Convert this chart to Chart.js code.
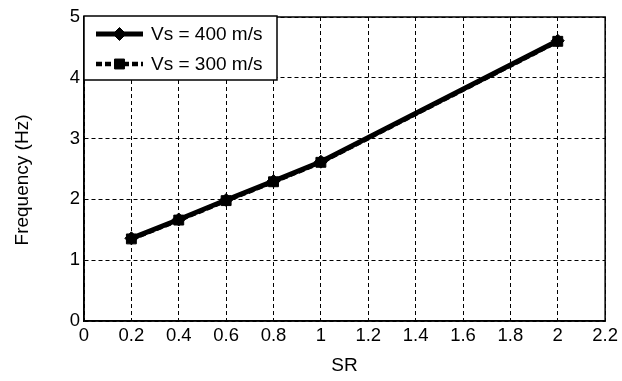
<!DOCTYPE html>
<html>
<head>
<meta charset="utf-8">
<script src="https://cdn.jsdelivr.net/npm/chart.js@4/dist/chart.umd.min.js"></script>
<style>
  html, body { margin: 0; padding: 0; background: #fff; }
  #wrap { width: 622px; height: 381px; }
</style>
</head>
<body>
<div id="wrap"><canvas id="c" width="622" height="381"></canvas></div>
<script>
// Slenderness ratio (SR) and natural frequency for two shear-wave velocities
const srValues = [0.2, 0.4, 0.6, 0.8, 1.0, 2.0];
const freqVs400 = [1.36, 1.67, 1.99, 2.30, 2.62, 4.61];
const freqVs300 = [1.35, 1.66, 1.98, 2.29, 2.61, 4.60];
const seriesLabels = ['Vs = 400 m/s', 'Vs = 300 m/s'];

const xTickValues = [0, 0.2, 0.4, 0.6, 0.8, 1, 1.2, 1.4, 1.6, 1.8, 2, 2.2];
const xTickLabels = ['0', '0.2', '0.4', '0.6', '0.8', '1', '1.2', '1.4', '1.6', '1.8', '2', '2.2'];
const yTickValues = [0, 1, 2, 3, 4, 5];
const yTickLabels = ['0', '1', '2', '3', '4', '5'];
const xTitle = 'SR';
const yTitle = 'Frequency (Hz)';

const FONT = 'Liberation Sans, Arial, sans-serif';

const toPoints = (xs, ys) => xs.map((x, i) => ({ x: x, y: ys[i] }));

// Solid frame around the plotting area
const framePlugin = {
  id: 'frame',
  beforeDatasetsDraw(chart) {
    const { ctx, chartArea: a } = chart;
    ctx.save();
    ctx.strokeStyle = '#000';
    ctx.lineWidth = 1.5;
    ctx.setLineDash([]);
    ctx.strokeRect(a.left, a.top, a.right - a.left, a.bottom - a.top);
    ctx.restore();
  }
};

// Vertical axis title, placed a little below the middle of the plot
const yTitlePlugin = {
  id: 'yTitle',
  afterDraw(chart) {
    const { ctx, chartArea: a } = chart;
    ctx.save();
    ctx.translate(23, (a.top + a.bottom) / 2 + 11);
    ctx.rotate(-Math.PI / 2);
    ctx.fillStyle = '#000';
    ctx.font = '19px ' + FONT;
    ctx.textAlign = 'center';
    ctx.textBaseline = 'middle';
    ctx.fillText(yTitle, 0, 0);
    ctx.restore();
  }
};

// Boxed legend in the upper-left corner of the plot
const boxLegendPlugin = {
  id: 'boxLegend',
  afterDatasetsDraw(chart) {
    const { ctx, chartArea: a } = chart;
    const x0 = a.left, y0 = a.top - 1, w = 193, h = 64;
    ctx.save();
    ctx.fillStyle = '#fff';
    ctx.fillRect(x0, y0, w, h);
    ctx.strokeStyle = '#000';
    ctx.lineWidth = 1.5;
    ctx.strokeRect(x0, y0, w, h);
    chart.data.datasets.forEach((ds, i) => {
      const cy = y0 + 18 + i * 30;
      const lx0 = x0 + 12, lx1 = x0 + 59, mx = (lx0 + lx1) / 2;
      ctx.strokeStyle = '#000';
      ctx.fillStyle = '#000';
      ctx.lineWidth = ds.borderWidth;
      ctx.setLineDash(ds.borderDash || []);
      ctx.beginPath();
      ctx.moveTo(lx0, cy);
      ctx.lineTo(lx1, cy);
      ctx.stroke();
      ctx.setLineDash([]);
      ctx.lineWidth = 1;
      Chart.helpers.drawPoint(ctx, {
        pointStyle: ds.pointStyle,
        radius: ds.pointRadius,
        borderWidth: 1
      }, mx, cy);
      ctx.fillStyle = '#000';
      ctx.font = '19px ' + FONT;
      ctx.textBaseline = 'middle';
      ctx.textAlign = 'left';
      ctx.fillText(ds.label, x0 + 67, cy + 1);
    });
    ctx.restore();
  }
};

new Chart(document.getElementById('c'), {
  type: 'line',
  data: {
    datasets: [
      {
        label: seriesLabels[0],
        data: toPoints(srValues, freqVs400),
        borderColor: '#000',
        backgroundColor: '#000',
        borderWidth: 5,
        pointStyle: 'rectRot',
        pointRadius: 6.5,
        pointBorderWidth: 1,
        pointBackgroundColor: '#000',
        order: 1
      },
      {
        label: seriesLabels[1],
        data: toPoints(srValues, freqVs300),
        borderColor: '#000',
        backgroundColor: '#000',
        borderWidth: 4.5,
        borderDash: [6, 3],
        pointStyle: 'rect',
        pointRadius: 7,
        pointBorderWidth: 1,
        pointBackgroundColor: '#000',
        order: 2
      }
    ]
  },
  options: {
    responsive: false,
    animation: false,
    devicePixelRatio: 1,
    layout: { padding: { left: 0, top: 17, right: 11, bottom: 0 } },
    plugins: {
      legend: { display: false },
      tooltip: { enabled: false }
    },
    scales: {
      x: {
        type: 'linear',
        min: 0,
        max: 2.2,
        afterBuildTicks(scale) {
          scale.ticks = xTickValues.map(v => ({ value: v }));
        },
        afterFit(scale) { scale.height = 60; },
        ticks: {
          color: '#000',
          font: { family: FONT, size: 18.5 },
          padding: 4,
          maxRotation: 0,
          autoSkip: false,
          callback: (v) => xTickLabels[xTickValues.indexOf(v)]
        },
        grid: {
          color: '#000',
          lineWidth: 1,
          drawTicks: false
        },
        border: { display: true, color: '#000', width: 1.5, dash: [4, 3] },
        title: {
          display: true,
          text: xTitle,
          color: '#000',
          font: { family: FONT, size: 19 },
          padding: { top: 0, bottom: 4 }
        }
      },
      y: {
        type: 'linear',
        min: 0,
        max: 5,
        afterBuildTicks(scale) {
          scale.ticks = yTickValues.map(v => ({ value: v }));
        },
        afterFit(scale) { scale.width = 84; },
        ticks: {
          color: '#000',
          font: { family: FONT, size: 18.5 },
          padding: 4,
          callback: (v) => yTickLabels[yTickValues.indexOf(v)]
        },
        grid: {
          color: '#000',
          lineWidth: 1,
          drawTicks: false
        },
        border: { display: true, color: '#000', width: 1.5, dash: [4, 3] },
        title: { display: false }
      }
    }
  },
  plugins: [framePlugin, boxLegendPlugin, yTitlePlugin]
});
</script>
</body>
</html>
